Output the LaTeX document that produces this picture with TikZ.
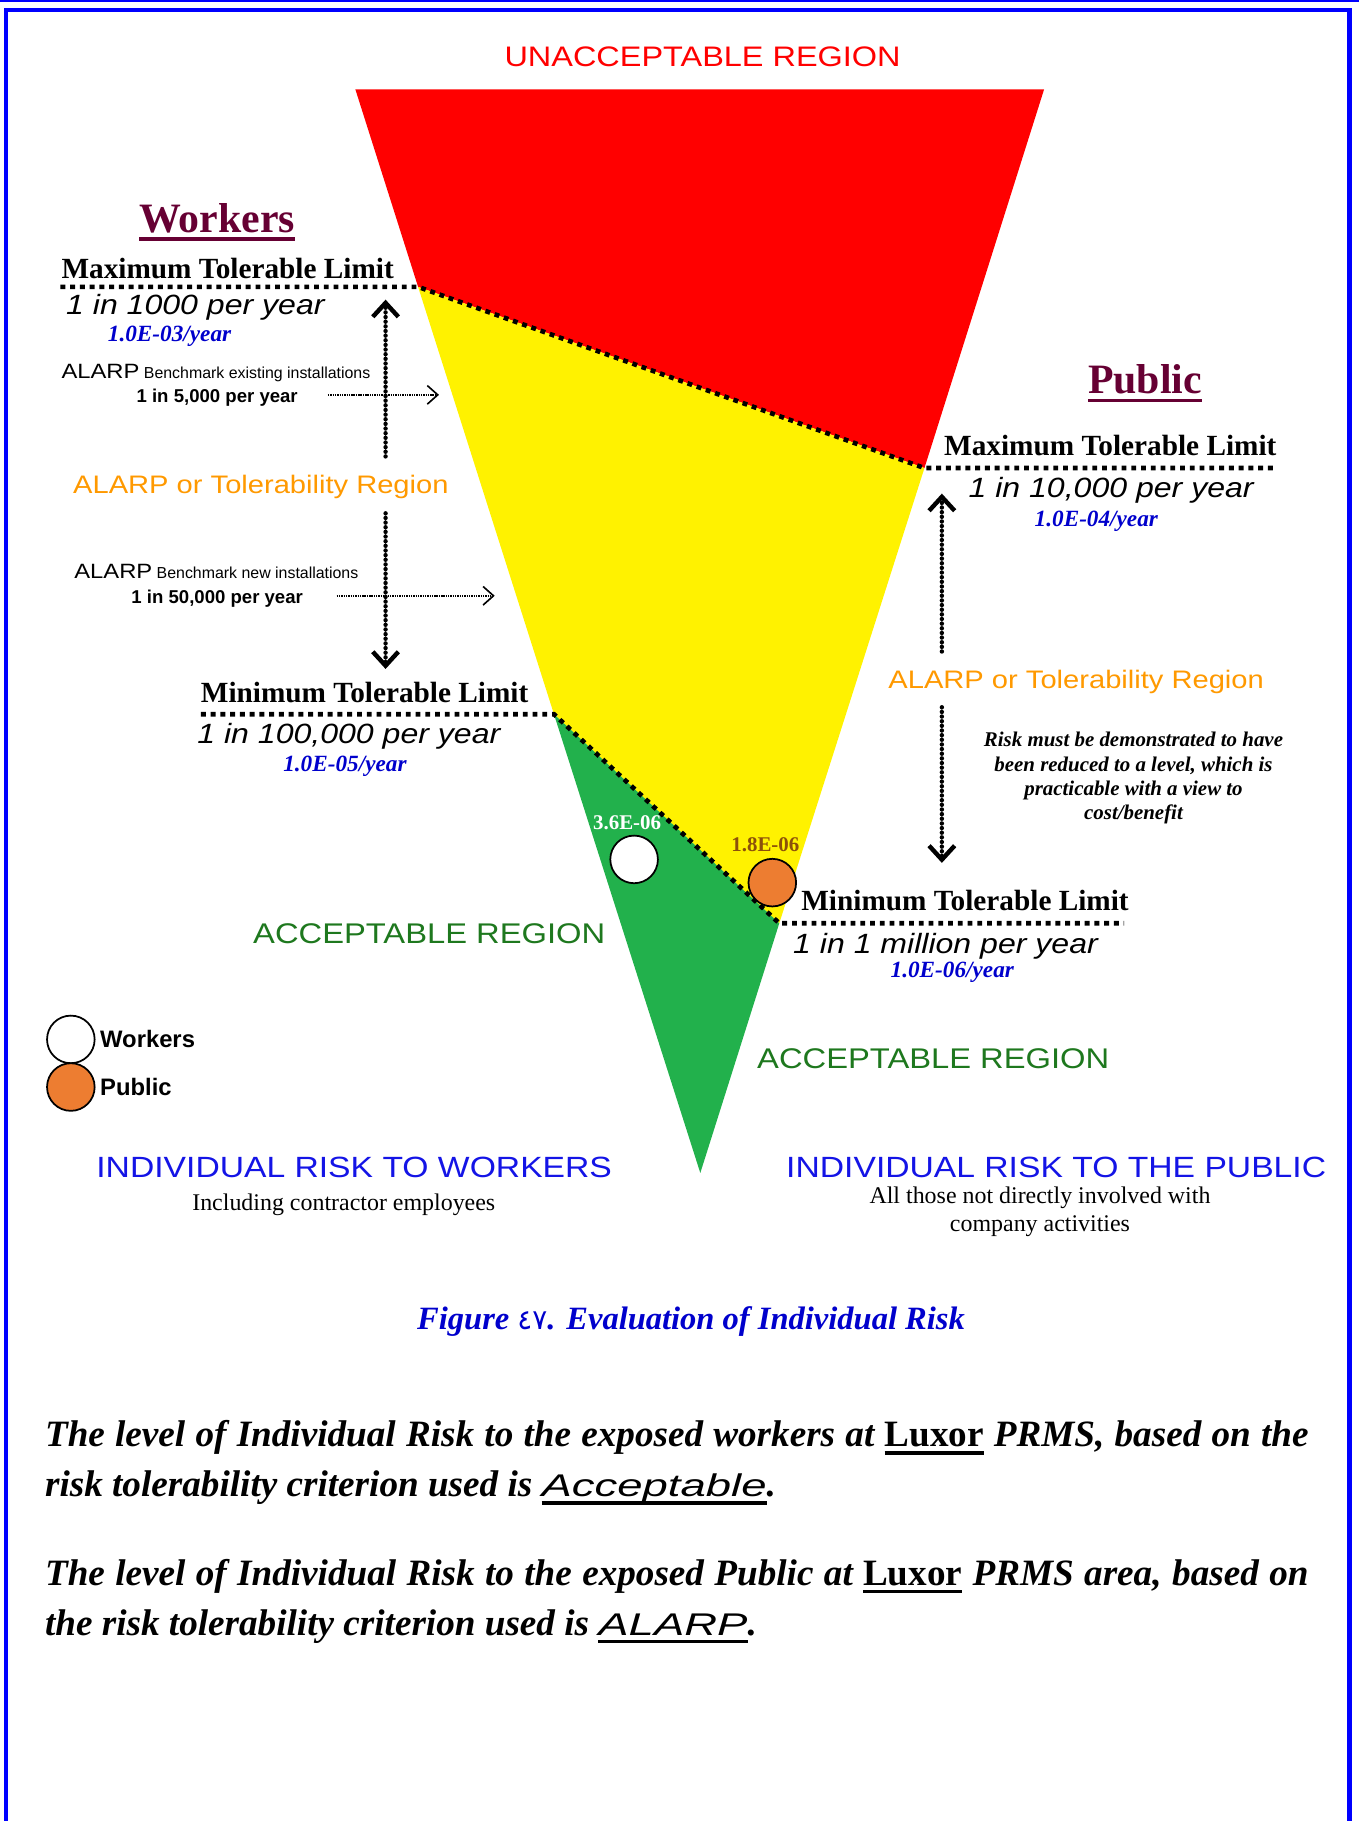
\documentclass[tikz,border=0pt]{standalone}
\usepackage{fontspec}
\setmainfont{Liberation Serif}
\newfontfamily\arialfont{Liberation Sans}
\newfontfamily\widefont[FakeStretch=1.15]{Liberation Sans}
\newfontfamily\xwidefont[FakeStretch=1.45]{Liberation Sans}
\newfontfamily\arabicfont[Script=Arabic]{DejaVu Sans}
\usetikzlibrary{positioning,arrows.meta}

\definecolor{riskred}{RGB}{255,0,0}
\definecolor{riskyellow}{RGB}{255,242,0}
\definecolor{riskgreen}{RGB}{34,177,76}
\definecolor{pubdot}{RGB}{237,125,49}
\definecolor{maroon}{RGB}{102,0,51}
\definecolor{alarporange}{RGB}{255,153,0}
\definecolor{accgreen}{RGB}{30,120,30}
\definecolor{valblue}{RGB}{0,0,204}
\definecolor{headblue}{RGB}{20,20,230}
\definecolor{markbrown}{RGB}{140,80,10}
\definecolor{frameblue}{RGB}{0,0,255}

\newcommand\ulword[1]{\setbox0=\hbox{#1}\rlap{\rule[-0.21em]{\wd0}{0.09em}}\box0\relax}

\begin{document}
\begin{tikzpicture}[x=1pt, y=-1pt,
  txt/.style={inner sep=0pt, outer sep=0pt},
  limit/.style={line width=4pt, dash pattern=on 4.2pt off 4.2pt},
  band/.style={line width=3.8pt, dash pattern=on 0pt off 4pt, line cap=round, -{Straight Barb[length=12pt, width=22pt, line width=3.8pt]}},
  bench/.style={line width=1.3pt, dash pattern=on 1.2pt off 0.8pt, -{Straight Barb[length=9pt, width=16pt, line width=1.4pt]}},
  dotmark/.style={circle, draw=black, line width=1.5pt, minimum size=41pt, inner sep=0pt},
  group/.style={txt, font=\fontsize{36}{42}\selectfont\bfseries, text=maroon, anchor=base},
  limitlbl/.style={txt, font=\fontsize{25.2}{30}\selectfont\bfseries, anchor=base west},
  rate/.style={txt, font=\widefont\itshape\fontsize{24}{29}\selectfont, anchor=base west},
  rateval/.style={txt, font=\fontsize{20}{24}\selectfont\bfseries\itshape, text=valblue, anchor=base},
  regionlbl/.style={txt, font=\widefont\fontsize{24.5}{29}\selectfont, text=accgreen, anchor=base west},
  alarp/.style={txt, font=\widefont\fontsize{21.8}{26}\selectfont, text=alarporange, anchor=base west},
  bmk/.style={txt, font=\arialfont\fontsize{13.7}{16}\selectfont, anchor=base west},
  bmkval/.style={txt, font=\arialfont\bfseries\fontsize{16}{19}\selectfont, anchor=base},
  marklbl/.style={txt, font=\fontsize{18}{21}\selectfont\bfseries},
  legendlbl/.style={txt, font=\arialfont\bfseries\fontsize{20.5}{24}\selectfont},
  riskhead/.style={txt, font=\widefont\fontsize{25.2}{29}\selectfont, text=headblue, anchor=base west},
  subtext/.style={txt, font=\fontsize{20.6}{24.4}\selectfont, align=center},
  para/.style={txt, font=\fontsize{32}{43}\selectfont\bfseries\itshape, align=left, anchor=north west}
]
\useasboundingbox (0,0) rectangle (1170,1568);

% frame
\draw[frameblue, line width=1.8pt] (0,0.9) -- (1170,0.9);
\draw[frameblue, line width=3.6pt] (5.3,1590) -- (5.3,8.6) -- (1162,8.6) -- (1162,1590);

% risk triangle
\coordinate (tl) at (306,77);
\coordinate (tr) at (899,77);
\coordinate (tip) at (603,1010);
\coordinate (wmax) at (360,247);
\coordinate (pmax) at (796,403);
\coordinate (wmin) at (477,615);
\coordinate (pmin) at (671,795);
\fill[riskred] (tl) -- (tr) -- (pmax) -- (wmax) -- cycle;
\fill[riskyellow] (wmax) -- (pmax) -- (pmin) -- (wmin) -- cycle;
\fill[riskgreen] (wmin) -- (pmin) -- (tip) -- cycle;

% limits
\coordinate (wmaxL) at (52,247);
\coordinate (pmaxR) at (1099,403);
\coordinate (wminL) at (173,615);
\coordinate (pminR) at (968,795);
\draw[limit] (wmaxL) -- (wmax) -- (pmax) -- (pmaxR);
\draw[limit] (wminL) -- (wmin) -- (pmin) -- (pminR);

\node[txt, font=\widefont\fontsize{24.3}{29}\selectfont, text=riskred, anchor=base] (unacc) at (605,57) {UNACCEPTABLE REGION};

% workers side
\node[group] (wtitle) at (187,200) {\ulword{Workers}};
\node[limitlbl] (wmaxlbl) at (53,240) {Maximum Tolerable Limit};
\node[rate] (wmaxrate) at (57,271) {1 in 1000 per year};
\node[rateval] (wmaxval) at (146,294) {1.0E-03/year};
\node[bmk] (bmkone) at (53,326) {{\widefont\fontsize{17.8}{20}\selectfont ALARP} Benchmark existing installations};
\node[bmkval] (bmkoneval) at (187,347) {1 in 5,000 per year};
\node[alarp] (walarp) at (63,425) {ALARP or Tolerability Region};
\node[bmk] (bmktwo) at (64,498) {{\widefont\fontsize{17.8}{20}\selectfont ALARP} Benchmark new installations};
\node[bmkval] (bmktwoval) at (187,520) {1 in 50,000 per year};
\node[limitlbl] (wminlbl) at (173,605) {Minimum Tolerable Limit};
\node[rate] (wminrate) at (170,640) {1 in 100,000 per year};
\node[rateval] (wminval) at (297,664) {1.0E-05/year};
\node[regionlbl] (waccept) at (218,812) {ACCEPTABLE REGION};

\coordinate (wup1) at (332,393);
\coordinate (wup2) at (332,258);
\coordinate (wdn1) at (332,442);
\coordinate (wdn2) at (332,576);
\draw[band] (wup1) -- (wup2);
\draw[band] (wdn1) -- (wdn2);
\coordinate (bmkonetip) at (378,340);
\coordinate (bmktwotip) at (426,513);
\draw[bench] ([xshift=26pt]bmkoneval.east |- bmkonetip) -- (bmkonetip);
\draw[bench] ([xshift=29pt]bmktwoval.east |- bmktwotip) -- (bmktwotip);

% public side
\node[group] (ptitle) at (986,339) {\ulword{Public}};
\node[limitlbl] (pmaxlbl) at (813,392) {Maximum Tolerable Limit};
\node[rate] (pmaxrate) at (834,428) {1 in 10,000 per year};
\node[rateval] (pmaxval) at (944,453) {1.0E-04/year};
\node[alarp] (palarp) at (765,593) {ALARP or Tolerability Region};
\node[txt, font=\fontsize{18}{20.9}\selectfont\bfseries\itshape, align=center, anchor=north] (pnote) at (976,630.5)
  {Risk must be demonstrated to have\\been reduced to a level, which is\\practicable with a view to\\cost/benefit};
\node[limitlbl] (pminlbl) at (690,784) {Minimum Tolerable Limit};
\node[rate] (pminrate) at (683,821) {1 in 1 million per year};
\node[rateval] (pminval) at (820,842) {1.0E-06/year};
\node[regionlbl] (paccept) at (652,920) {ACCEPTABLE REGION};

\coordinate (pup1) at (811,561);
\coordinate (pup2) at (811,425);
\coordinate (pdn1) at (811,609);
\coordinate (pdn2) at (811,743);
\draw[band] (pup1) -- (pup2);
\draw[band] (pdn1) -- (pdn2);

% assessed risks
\node[dotmark, fill=white] (wmark) at (546,740) {};
\node[dotmark, fill=pubdot] (pmark) at (665,760) {};
\node[marklbl, text=white, above=4.5pt of wmark, xshift=-6pt] (wmarklbl) {3.6E-06};
\node[marklbl, text=markbrown, above=5.5pt of pmark, xshift=-6pt] (pmarklbl) {1.8E-06};

% legend
\node[dotmark, fill=white] (lgwork) at (61,895) {};
\node[dotmark, fill=pubdot] (lgpub) at (61,936) {};
\node[legendlbl, right=4pt of lgwork] (lgworklbl) {Workers};
\node[legendlbl, right=4pt of lgpub] (lgpublbl) {Public};

% headings
\node[riskhead] (irwork) at (83,1014) {INDIVIDUAL RISK TO WORKERS};
\node[subtext, anchor=base] (irworksub) at (296,1042) {Including contractor employees};
\node[riskhead] (irpub) at (677,1014) {INDIVIDUAL RISK TO THE PUBLIC};
\node[subtext, anchor=north] (irpubsub) at (895.5,1022) {All those not directly involved with\\company activities};

\node[txt, font=\fontsize{28}{33}\selectfont\bfseries\itshape, text=valblue, anchor=base] (caption) at (595,1145)
  {Figure {\arabicfont\mdseries\upshape\fontsize{24}{28}\selectfont ٤٧}. Evaluation of Individual Risk};

\node[para] (paraone) at (38.8,1223.4)
  {\makebox[1088pt][s]{The level of Individual Risk to the exposed workers at \ulword{\upshape Luxor} PRMS, based on the}\\
   risk tolerability criterion used is \ulword{\xwidefont\mdseries\itshape\fontsize{27}{32}\selectfont Acceptable}.};
\node[para] (paratwo) at (38.8,1342.4)
  {\makebox[1088pt][s]{The level of Individual Risk to the exposed Public at \ulword{\upshape Luxor} PRMS area, based on}\\
   the risk tolerability criterion used is \ulword{\xwidefont\mdseries\itshape\fontsize{27}{32}\selectfont ALARP}.};
\end{tikzpicture}
\end{document}
